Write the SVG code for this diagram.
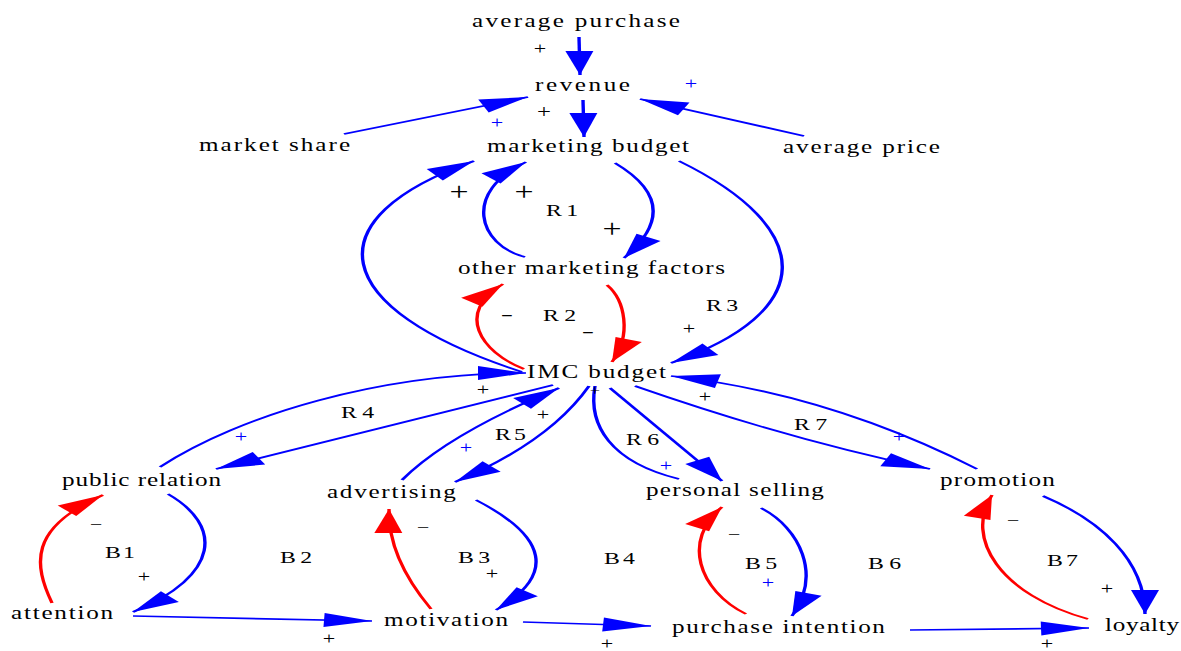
<svg xmlns="http://www.w3.org/2000/svg" width="1181" height="651" viewBox="0 0 1181 651">
<style>
text { font-family: "Liberation Serif", "Times New Roman", serif; fill: #000; }
.n { font-size: 18px; }
.l { font-size: 17px; }
.p { font-size: 17px; text-anchor: middle; }
.ps { font-size: 14px; text-anchor: middle; }
.pm { font-size: 19px; text-anchor: middle; }
.pl { font-size: 26px; text-anchor: middle; }
.mb { font-size: 16px; font-weight: bold; text-anchor: middle; }
.b { fill: #0000ff; }
.c { fill: none; stroke-width: 1.7; }
.cb { stroke: #0000ff; marker-end: url(#ab); }
.cr { stroke: #ff0000; marker-end: url(#ar); }
.cn { stroke: #0000ff; }
</style>
<defs>
<marker id="ab" markerUnits="userSpaceOnUse" markerWidth="25" markerHeight="15" refX="24" refY="7" orient="auto" overflow="visible"><path d="M0,0 L24,7 L0,14 z" fill="#0000ff"/></marker>
<marker id="ar" markerUnits="userSpaceOnUse" markerWidth="25" markerHeight="15" refX="24" refY="7" orient="auto" overflow="visible"><path d="M0,0 L24,7 L0,14 z" fill="#ff0000"/></marker>
</defs>
<rect width="1181" height="651" fill="#fff"/>
<g id="connectors" transform="scale(2,1)">
<path class="c cb" d="M289.5,37 L290,75"/>
<path class="c cb" d="M291.5,100 L292,137"/>
<path class="c cb" d="M172,134 L264,97"/>
<path class="c cb" d="M402,136 L320,99"/>
<path class="c cb" d="M307.5,163 Q343.25,205.5 312,258"/>
<path class="c cb" d="M262.5,257 C239,245 231,192 263,162"/>
<path class="c cb" d="M261,372 C162.5,308 156,218 237,161"/>
<path class="c cb" d="M339.5,161 C409,229 409,312 335.5,363"/>
<path class="c cr" d="M303.5,285 C312.5,300 316,335 306,362"/>
<path class="c cr" d="M262,369 C240,352 227.5,312 251.5,284"/>
<path class="c cb" d="M80,467 C120,415 190,373 263,373"/>
<path class="c cb" d="M276.5,385 L108,469"/>
<path class="c cb" d="M201,480 Q224,434 279.5,388"/>
<path class="c cb" d="M294.5,386 Q274.75,442 227.5,482"/>
<path class="c cn" d="M339.5,479 C305,462 294,425 297.5,386"/>
<path class="c cb" d="M305,388 L361,481"/>
<path class="c cb" d="M317.5,386 Q395,440 465,469"/>
<path class="c cb" d="M488.5,469 Q413.5,393 335.5,376"/>
<path class="c cb" d="M84,494 C111,525 111,575 66.5,612"/>
<path class="c cr" d="M26,603 C17,565 14,528 51.5,495"/>
<path class="c cb" d="M66.5,616 L186,621"/>
<path class="c cr" d="M215.5,609 C202.5,578 194,545 194.5,509"/>
<path class="c cb" d="M238,500 C274,537 278,575 248,610"/>
<path class="c cb" d="M261.5,622 L325.5,626"/>
<path class="c cr" d="M373,614 C349,590 341,540 361,507"/>
<path class="c cb" d="M380.5,508 C400,528 411,575 396,616"/>
<path class="c cb" d="M521.5,496 C550,520 572.5,560 572.5,614"/>
<path class="c cr" d="M544,619 C500,595 482,538 496,495"/>
<path class="c cb" d="M455,630 L544.5,628"/>
</g>
<g id="n-average-purchase"><text class="n" transform="translate(472,27) scale(1.4,1)" textLength="148.6" lengthAdjust="spacing">average purchase</text></g>
<g id="n-revenue"><text class="n" transform="translate(535,91) scale(1.4,1)" textLength="67.9" lengthAdjust="spacing">revenue</text></g>
<g id="n-market-share"><text class="n" transform="translate(199,151) scale(1.4,1)" textLength="107.9" lengthAdjust="spacing">market share</text></g>
<g id="n-marketing-budget"><text class="n" transform="translate(487,152) scale(1.4,1)" textLength="144.3" lengthAdjust="spacing">marketing budget</text></g>
<g id="n-average-price"><text class="n" transform="translate(783,153) scale(1.4,1)" textLength="112.1" lengthAdjust="spacing">average price</text></g>
<g id="n-other-marketing-factors"><text class="n" transform="translate(458,274) scale(1.4,1)" textLength="190.7" lengthAdjust="spacing">other marketing factors</text></g>
<g id="n-imc-budget"><text class="n" transform="translate(527,378) scale(1.4,1)" textLength="99.3" lengthAdjust="spacing">IMC budget</text></g>
<g id="n-public-relation"><text class="n" transform="translate(62,486) scale(1.4,1)" textLength="113.6" lengthAdjust="spacing">public relation</text></g>
<g id="n-advertising"><text class="n" transform="translate(327,498) scale(1.4,1)" textLength="92.1" lengthAdjust="spacing">advertising</text></g>
<g id="n-personal-selling"><text class="n" transform="translate(646,496) scale(1.4,1)" textLength="127.1" lengthAdjust="spacing">personal selling</text></g>
<g id="n-promotion"><text class="n" transform="translate(940,486) scale(1.4,1)" textLength="82.1" lengthAdjust="spacing">promotion</text></g>
<g id="n-attention"><text class="n" transform="translate(11,619) scale(1.4,1)" textLength="72.9" lengthAdjust="spacing">attention</text></g>
<g id="n-motivation"><text class="n" transform="translate(384,626) scale(1.4,1)" textLength="88.6" lengthAdjust="spacing">motivation</text></g>
<g id="n-purchase-intention"><text class="n" transform="translate(672,633) scale(1.4,1)" textLength="152.1" lengthAdjust="spacing">purchase intention</text></g>
<g id="n-loyalty"><text class="n" transform="translate(1105,631) scale(1.4,1)" textLength="52.9" lengthAdjust="spacing">loyalty</text></g>
<g id="loops">
<text class="l" transform="translate(546,216) scale(1.4,1)" textLength="22.9" lengthAdjust="spacing">R1</text>
<text class="l" transform="translate(543,321) scale(1.4,1)" textLength="23.6" lengthAdjust="spacing">R2</text>
<text class="l" transform="translate(706,311) scale(1.4,1)" textLength="22.9" lengthAdjust="spacing">R3</text>
<text class="l" transform="translate(341,418) scale(1.4,1)" textLength="23.6" lengthAdjust="spacing">R4</text>
<text class="l" transform="translate(495,440) scale(1.4,1)" textLength="22.1" lengthAdjust="spacing">R5</text>
<text class="l" transform="translate(626,445) scale(1.4,1)" textLength="23.6" lengthAdjust="spacing">R6</text>
<text class="l" transform="translate(794,430) scale(1.4,1)" textLength="23.6" lengthAdjust="spacing">R7</text>
<text class="l" transform="translate(105,558) scale(1.4,1)" textLength="21.4" lengthAdjust="spacing">B1</text>
<text class="l" transform="translate(280,563) scale(1.4,1)" textLength="22.9" lengthAdjust="spacing">B2</text>
<text class="l" transform="translate(458,563) scale(1.4,1)" textLength="22.9" lengthAdjust="spacing">B3</text>
<text class="l" transform="translate(604,564) scale(1.4,1)" textLength="22.1" lengthAdjust="spacing">B4</text>
<text class="l" transform="translate(745,569) scale(1.4,1)" textLength="22.9" lengthAdjust="spacing">B5</text>
<text class="l" transform="translate(868,569) scale(1.4,1)" textLength="23.6" lengthAdjust="spacing">B6</text>
<text class="l" transform="translate(1047,566) scale(1.4,1)" textLength="22.1" lengthAdjust="spacing">B7</text>
</g>
<g id="polarities">
<text class="p" transform="translate(540,54.3) scale(1.3,1)">+</text>
<text class="p b" transform="translate(691,89.3) scale(1.3,1)">+</text>
<text class="pm" transform="translate(544,117.8) scale(1.3,1)">+</text>
<text class="p b" transform="translate(497,128.3) scale(1.3,1)">+</text>
<text class="pl" transform="translate(459,199.5) scale(1.3,1)">+</text>
<text class="pl" transform="translate(524,199.5) scale(1.3,1)">+</text>
<text class="pl" transform="translate(612,236.5) scale(1.3,1)">+</text>
<text class="mb" transform="translate(507,321) scale(1.3,1)">−</text>
<text class="mb" transform="translate(588,338) scale(1.3,1)">−</text>
<text class="p" transform="translate(689,334.3) scale(1.3,1)">+</text>
<text class="p" transform="translate(483,395.3) scale(1.3,1)">+</text>
<text class="ps" transform="translate(595,395) scale(1.3,1)">+</text>
<text class="p" transform="translate(543,420.3) scale(1.3,1)">+</text>
<text class="p b" transform="translate(466,453.3) scale(1.3,1)">+</text>
<text class="p b" transform="translate(241,442.3) scale(1.3,1)">+</text>
<text class="p" transform="translate(705,402.3) scale(1.3,1)">+</text>
<text class="p b" transform="translate(666,471.3) scale(1.3,1)">+</text>
<text class="p b" transform="translate(899,442.3) scale(1.3,1)">+</text>
<text class="p" transform="translate(96,529.5) scale(1.3,1)">−</text>
<text class="p" transform="translate(144,582.3) scale(1.3,1)">+</text>
<text class="p" transform="translate(423,533) scale(1.3,1)">−</text>
<text class="p" transform="translate(492,579.3) scale(1.3,1)">+</text>
<text class="p" transform="translate(734,539.5) scale(1.3,1)">−</text>
<text class="p b" transform="translate(768,588.3) scale(1.3,1)">+</text>
<text class="p" transform="translate(1013,526.3) scale(1.3,1)">−</text>
<text class="p" transform="translate(1107,594.3) scale(1.3,1)">+</text>
<text class="p" transform="translate(329,644.3) scale(1.3,1)">+</text>
<text class="p" transform="translate(607,648.5) scale(1.3,1)">+</text>
<text class="p" transform="translate(1047,648.5) scale(1.3,1)">+</text>
</g>
</svg>
